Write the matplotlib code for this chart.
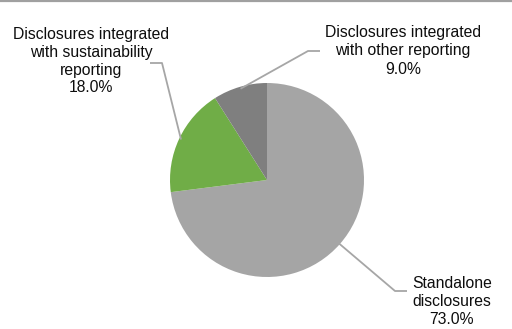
import numpy as np
import matplotlib
matplotlib.use("Agg")
import matplotlib.pyplot as plt

LABELS = [
    "Standalone\ndisclosures",
    "Disclosures integrated\nwith sustainability\nreporting",
    "Disclosures integrated\nwith other reporting",
]
SHARES = [73.0, 18.0, 9.0]
COLORS = ["#A5A5A5", "#70AD47", "#7F7F7F"]

# label text centre (pixels from top-left) and leader elbow / end points
LABEL_POS = [(452, 301), (91, 61), (403, 51)]
ELBOWS = [[(395, 291), (407, 291)], [(162, 63), (150, 63)], [(308, 51), (320, 51)]]

W, H = 512, 329
CX, CY, R = 267, 180, 97
LINE = "#A6A6A6"

plt.rcParams["font.family"] = ["Liberation Sans", "DejaVu Sans"]

fig = plt.figure(figsize=(W / 100, H / 100), dpi=100)
ax = fig.add_axes([0, 0, 1, 1])

wedges, _ = ax.pie(SHARES, colors=COLORS, startangle=90, counterclock=False,
                   center=(CX, H - CY), radius=R, frame=True,
                   wedgeprops=dict(linewidth=0))
ax.set_xlim(0, W)
ax.set_ylim(0, H)
ax.axis("off")

for w, lab, val, (tx, ty), elbow in zip(wedges, LABELS, SHARES, LABEL_POS, ELBOWS):
    mid = np.deg2rad((w.theta1 + w.theta2) / 2)
    sx = CX + (R - 2) * np.cos(mid)
    sy = (H - CY) + (R - 2) * np.sin(mid)
    xs = [sx] + [p[0] for p in elbow]
    ys = [sy] + [H - p[1] for p in elbow]
    ax.plot(xs, ys, color=LINE, lw=1.3, solid_capstyle="butt")
    ax.text(tx, H - ty, f"{lab}\n{val:.1f}%", ha="center", va="center",
            fontsize=11.3, color="#0d0d0d", linespacing=1.25)

# top border
ax.plot([0, W], [H - 0.8, H - 0.8], color="#A0A0A0", lw=1.6)

fig.savefig("out.png", dpi=100)
